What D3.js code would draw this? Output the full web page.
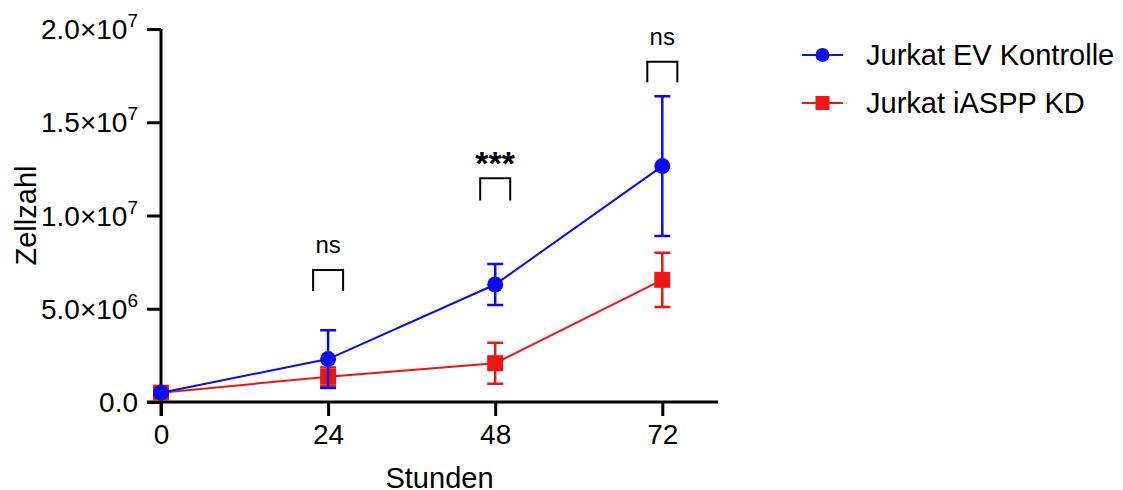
<!DOCTYPE html>
<html>
<head>
<meta charset="utf-8">
<script src="https://cdn.jsdelivr.net/npm/d3@7"></script>
<style>
	body { margin: 0; background: #fff; }
	svg text { font-family: "Liberation Sans", Arial, sans-serif; fill: #000; }
</style>
</head>
<body>
<svg id="chart" width="1123" height="490"></svg>
<script>
// Stunden
var hours = [0, 24, 48, 72];
// Jurkat EV Kontrolle
var evMean = [0.5e6, 2.3e6, 6.3e6, 12.65e6];
var evSd   = [0.1e6, 1.55e6, 1.1e6, 3.75e6];
// Jurkat iASPP KD
var kdMean = [0.5e6, 1.35e6, 2.08e6, 6.55e6];
var kdSd   = [0.1e6, 0.5e6, 1.1e6, 1.45e6];
// significance brackets
var sigHours = [24, 48, 72];
var sigLabels = ['ns', '***', 'ns'];
var sigTop = [7.08e6, 12.0e6, 18.25e6];
var sigLeg = [5.95e6, 10.8e6, 17.15e6];
var yTicks = [0, 5e6, 1e7, 1.5e7, 2e7];
var yTickMant = ['0.0', '5.0', '1.0', '1.5', '2.0'];
var yTickExp = ['', '6', '7', '7', '7'];

var chart = {
	init: function(){
		var self = this;
		self.svg = d3.select('#chart');
		self.x = d3.scaleLinear().domain([0, 80]).range([161, 718]);
		self.y = d3.scaleLinear().domain([0, 2e7]).range([402, 29]);
		self._draw_axes();
		self._draw_series(hours, kdMean, kdSd, '#ee1515', 'square');
		self._draw_series(hours, evMean, evSd, '#0a0af5', 'circle');
		self._draw_sig();
		self._draw_legend();
	},
	_draw_axes: function(){
		var self = this;
		var svg = self.svg, x = self.x, y = self.y;
		var xAxis = svg.append('g')
			.attr('transform', 'translate(0,' + y(0) + ')')
			.call(d3.axisBottom(x).tickValues(hours).tickSize(14).tickPadding(8).tickFormat(d3.format('d')));
		xAxis.select('.domain').attr('d', 'M' + (x(0) - 14) + ',0H' + x(80));
		var yAxis = svg.append('g')
			.attr('transform', 'translate(' + x(0) + ',0)')
			.call(d3.axisLeft(y).tickValues(yTicks).tickSize(14).tickPadding(9).tickFormat(''));
		yAxis.select('.domain').attr('d', 'M0,' + y(2e7) + 'V' + (y(0) + 14));
		svg.selectAll('.domain, .tick line').attr('stroke', '#000').attr('stroke-width', 3);
		xAxis.selectAll('.tick text').attr('font-size', 28).attr('fill', '#000')
			.attr('font-family', '"Liberation Sans", Arial, sans-serif');
		// y tick labels with exponents
		yTicks.forEach(function(v, i){
			var t = svg.append('text')
				.attr('x', x(0) - 23)
				.attr('y', y(v) + 10)
				.attr('text-anchor', 'end')
				.attr('font-size', 28);
			t.append('tspan').text(yTickMant[i]);
			if(yTickExp[i] != ''){
				t.append('tspan').text('\u00d7' + '10');
				t.append('tspan').attr('font-size', 19).attr('dy', -12).text(yTickExp[i]);
			}
		});
		svg.append('text')
			.attr('x', (x(0) + x(80)) / 2)
			.attr('y', 488)
			.attr('text-anchor', 'middle')
			.attr('font-size', 29)
			.text('Stunden');
		svg.append('text')
			.attr('transform', 'translate(36,' + (y(0) + y(2e7)) / 2 + ') rotate(-90)')
			.attr('text-anchor', 'middle')
			.attr('font-size', 29)
			.text('Zellzahl');
	},
	_draw_series: function(xs, means, sds, color, shape){
		var self = this;
		var svg = self.svg, x = self.x, y = self.y;
		var g = svg.append('g');
		var line = d3.line()
			.x(function(d, i){ return x(xs[i]); })
			.y(function(d){ return y(d); });
		g.append('path')
			.datum(means)
			.attr('d', line)
			.attr('fill', 'none')
			.attr('stroke', color)
			.attr('stroke-width', 2);
		var cap = 8;
		means.forEach(function(m, i){
			var cx = x(xs[i]);
			var hi = y(m + sds[i]), lo = y(m - sds[i]);
			g.append('path')
				.attr('d', 'M' + cx + ',' + hi + 'V' + lo
					+ 'M' + (cx - cap) + ',' + hi + 'H' + (cx + cap)
					+ 'M' + (cx - cap) + ',' + lo + 'H' + (cx + cap))
				.attr('fill', 'none')
				.attr('stroke', color)
				.attr('stroke-width', 2.5);
		});
		means.forEach(function(m, i){
			self._marker(g, x(xs[i]), y(m), color, shape, 8);
		});
	},
	_marker: function(g, cx, cy, color, shape, r){
		if(shape == 'circle'){
			g.append('circle').attr('cx', cx).attr('cy', cy).attr('r', r).attr('fill', color);
		}else{
			g.append('rect').attr('x', cx - r).attr('y', cy - r)
				.attr('width', 2 * r).attr('height', 2 * r).attr('fill', color);
		}
	},
	_draw_sig: function(){
		var self = this;
		var svg = self.svg, x = self.x, y = self.y;
		var half = 15;
		sigHours.forEach(function(h, i){
			var cx = x(h);
			svg.append('path')
				.attr('d', 'M' + (cx - half) + ',' + y(sigLeg[i]) + 'V' + y(sigTop[i])
					+ 'H' + (cx + half) + 'V' + y(sigLeg[i]))
				.attr('fill', 'none')
				.attr('stroke', '#000')
				.attr('stroke-width', 2);
			var bold = sigLabels[i] == '***';
			svg.append('text')
				.attr('x', cx)
				.attr('y', y(sigTop[i]) - (bold ? 3 : 17))
				.attr('text-anchor', 'middle')
				.attr('font-size', bold ? 34 : 24)
				.attr('font-weight', bold ? 'bold' : 'normal')
				.text(sigLabels[i]);
		});
	},
	_draw_legend: function(){
		var self = this;
		var svg = self.svg;
		var items = [
			{name: 'Jurkat EV Kontrolle', color: '#0a0af5', shape: 'circle'},
			{name: 'Jurkat iASPP KD', color: '#ee1515', shape: 'square'}
		];
		items.forEach(function(d, i){
			var cy = 55 + i * 48;
			var g = svg.append('g');
			g.append('line').attr('x1', 802).attr('x2', 843).attr('y1', cy).attr('y2', cy)
				.attr('stroke', d.color).attr('stroke-width', 2);
			self._marker(g, 822.5, cy, d.color, d.shape, 7);
			g.append('text').attr('x', 866).attr('y', cy + 10).attr('font-size', 29).text(d.name);
		});
	}
};
chart.init();
</script>
</body>
</html>
